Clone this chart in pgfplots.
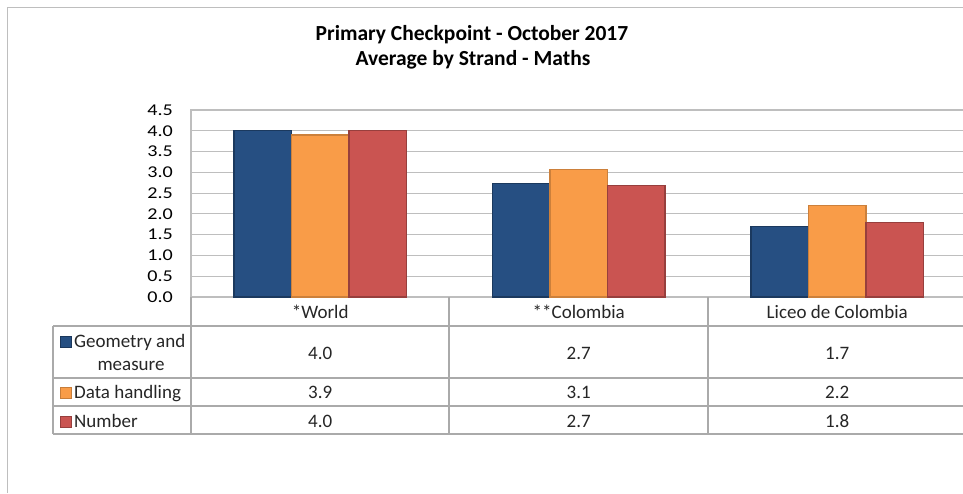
\documentclass[border=0pt]{standalone}
\usepackage{pgfplots}
\pgfplotsset{compat=1.18}
\usepackage{pgfplotstable}
\usepackage{fontspec}
\setmainfont{Carlito}

\definecolor{geo}{RGB}{38,79,130}
\definecolor{dat}{RGB}{249,156,72}
\definecolor{num}{RGB}{202,84,81}
\definecolor{gridc}{RGB}{190,190,190}
\definecolor{tabc}{RGB}{170,170,170}

% bar heights
\pgfplotstableread{
x    geo   dat   num
0.5  4.00  3.90  4.00
1.5  2.74  3.07  2.69
2.5  1.70  2.20  1.80
}\strand

\begin{document}
\begin{tikzpicture}[x=1pt,y=1pt]
\clip (0,0) rectangle (963,493);
\fill[white] (0,0) rectangle (963,493);
% outer frame
\draw[gridc, line width=1pt] (7,0) -- (7,485) -- (963,485);

% titles
\node[font=\bfseries\fontsize{21.5}{24}\selectfont, anchor=base] at (472,452) {Primary Checkpoint - October 2017};
\node[font=\bfseries\fontsize{21.5}{24}\selectfont, anchor=base] at (473,427) {Average by Strand - Maths};

\begin{axis}[
    at={(191pt,196pt)}, anchor=south west,
    scale only axis, width=775.5pt, height=187pt,
    xmin=0, xmax=3, ymin=0, ymax=4.5,
    xtick=\empty,
    ytick={0,0.5,...,4.5},
    major tick length=0pt,
    ymajorgrids,
    grid style={gridc, line width=1.2pt},
    axis line style={gridc, line width=1.2pt},
    /pgf/number format/assume math mode=true,
    yticklabel style={inner sep=0pt, xshift=-18pt, font=\fontsize{16.5}{18}\selectfont},
    yticklabel={\scalebox{1.22}[1]{\pgfmathprintnumber[fixed,fixed zerofill,precision=1]{\tick}}},
]
\addplot[ybar, bar width=0.2224, bar shift=-0.2224, fill=geo, draw=geo!72!black, line width=1.2pt] table[x=x,y=geo] {\strand};
\addplot[ybar, bar width=0.2224, bar shift=0, fill=dat, draw=dat!82!black, line width=1.2pt] table[x=x,y=dat] {\strand};
\addplot[ybar, bar width=0.2224, bar shift=0.2224, fill=num, draw=num!75!black, line width=1.2pt] table[x=x,y=num] {\strand};
\end{axis}

% data table
\begin{scope}[tabc, line width=1.2pt]
\draw (53,167) -- (966,167);
\draw (53,115) -- (966,115);
\draw (53,87) -- (966,87);
\draw (53,59) -- (966,59);
\draw (53,167) -- (53,59);
\draw (191,196) -- (191,59);
\draw (449,196) -- (449,59);
\draw (708,196) -- (708,59);
\end{scope}

\begin{scope}[font=\fontsize{19}{23}\selectfont, text=black!85]
\node[anchor=base] at (320.25,175) {*World};
\node[anchor=base] at (578.75,175) {**Colombia};
\node[anchor=base] at (837.25,175) {Liceo de Colombia};

\fill[geo, draw=geo!70!black, line width=0.6pt] (60,146) rectangle (71,157);
\node[anchor=base west, inner sep=0pt] at (74,146) {Geometry and};
\node[anchor=base, inner sep=0pt] at (131,123) {measure};
\fill[dat, draw=dat!80!black, line width=0.6pt] (60,95) rectangle (71,106);
\node[anchor=base west, inner sep=0pt] at (74,95) {Data handling};
\fill[num, draw=num!75!black, line width=0.6pt] (60,66) rectangle (71,77);
\node[anchor=base west, inner sep=0pt] at (74,66) {Number};

\node[anchor=base] at (320.25,134) {4.0};
\node[anchor=base] at (578.75,134) {2.7};
\node[anchor=base] at (837.25,134) {1.7};
\node[anchor=base] at (320.25,95) {3.9};
\node[anchor=base] at (578.75,95) {3.1};
\node[anchor=base] at (837.25,95) {2.2};
\node[anchor=base] at (320.25,66) {4.0};
\node[anchor=base] at (578.75,66) {2.7};
\node[anchor=base] at (837.25,66) {1.8};
\end{scope}
\end{tikzpicture}
\end{document}
